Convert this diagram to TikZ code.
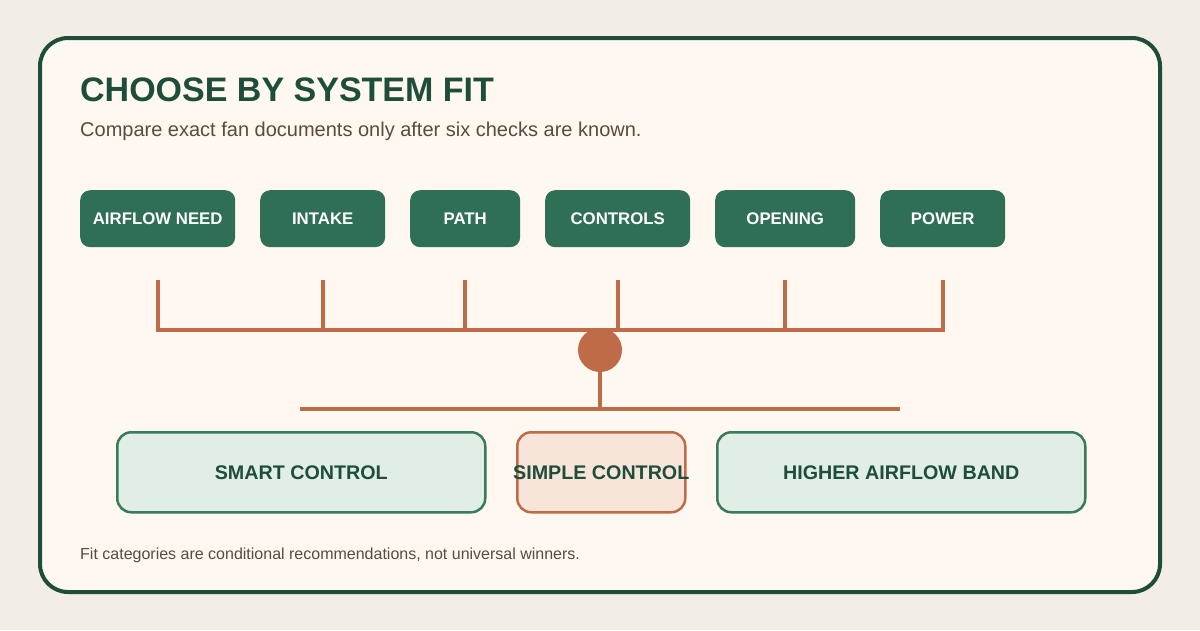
\documentclass[tikz,border=0pt]{standalone}
\usepackage{fontspec}
\setmainfont{Liberation Sans}
\definecolor{bgc}{HTML}{F3EEE5}
\definecolor{cardc}{HTML}{FEF8F1}
\definecolor{darkg}{HTML}{1E4D3A}
\definecolor{boxg}{HTML}{2F6F55}
\definecolor{orng}{HTML}{C06B48}
\definecolor{lightg}{HTML}{E0EEE6}
\definecolor{lighto}{HTML}{F7E5DA}
\definecolor{midg}{HTML}{3A7A5C}
\definecolor{txtc}{HTML}{574B42}
\begin{document}
\begin{tikzpicture}[x=1pt,y=-1pt,
  topbox/.style={fill=boxg,rounded corners=10pt,minimum height=57pt,inner sep=0pt,
     text=white,font=\fontsize{16.8}{18}\selectfont\bfseries,anchor=north west},
  catbox/.style={rounded corners=14pt,minimum height=80pt,inner sep=0pt,line width=2.5pt,
     anchor=north west},
  cattext/.style={text=darkg,font=\fontsize{19.7}{22}\selectfont\bfseries,inner sep=0pt},
  link/.style={draw=orng,line width=4pt}]
\fill[bgc] (0,0) rectangle (1200,630);
\useasboundingbox (0,0) rectangle (1200,630);
\draw[darkg,line width=4pt,fill=cardc,rounded corners=28pt] (40,38) rectangle (1160,592);
\node[anchor=base west,inner sep=0pt,text=darkg,font=\fontsize{34}{40}\selectfont\bfseries] (title) at (80,101) {CHOOSE BY SYSTEM FIT};
\node[anchor=base west,inner sep=0pt,text=txtc,font=\fontsize{20}{24}\selectfont] (sub) at (80,136) {Compare exact fan documents only after six checks are known.};
% top boxes
\node[topbox,minimum width=155pt] (b1) at (80,190) {AIRFLOW NEED};
\node[topbox,minimum width=125pt] (b2) at (260,190) {INTAKE};
\node[topbox,minimum width=110pt] (b3) at (410,190) {PATH};
\node[topbox,minimum width=145pt] (b4) at (545,190) {CONTROLS};
\node[topbox,minimum width=140pt] (b5) at (715,190) {OPENING};
\node[topbox,minimum width=125pt] (b6) at (880,190) {POWER};
\foreach \i in {1,...,6}{
  \coordinate (d\i) at ([yshift=-33pt]b\i.south);
  \coordinate (j\i) at ([yshift=-83pt]b\i.south);
}
\node[circle,fill=orng,minimum size=44pt,inner sep=0pt] (hub) at (600,350) {};
\draw[link,line join=miter] (d1) -- (j1) -- (j6) -- (d6);
\foreach \i in {2,...,5}{\draw[link] (d\i) -- (j\i);}
\coordinate (hb) at (600,409);
\coordinate (hl) at (300,409);
\coordinate (hr) at (900,409);
\draw[link] (hub.south) -- (hb);
\draw[link] (hl) -- (hr);
% category boxes
\node[catbox,draw=midg,fill=lightg,minimum width=368pt] (c1) at (116,431) {};
\node[catbox,draw=orng,fill=lighto,minimum width=168pt] (c2) at (516,431) {};
\node[catbox,draw=midg,fill=lightg,minimum width=368pt] (c3) at (716,431) {};
\node[cattext] (t1) at (c1.center) {SMART CONTROL};
\node[cattext] (t2) at (c2.center) {SIMPLE CONTROL};
\node[cattext] (t3) at (c3.center) {HIGHER AIRFLOW BAND};
\node[anchor=base west,inner sep=0pt,text=txtc,font=\fontsize{16}{19}\selectfont] (foot) at (80,559) {Fit categories are conditional recommendations, not universal winners.};
\end{tikzpicture}
\end{document}
